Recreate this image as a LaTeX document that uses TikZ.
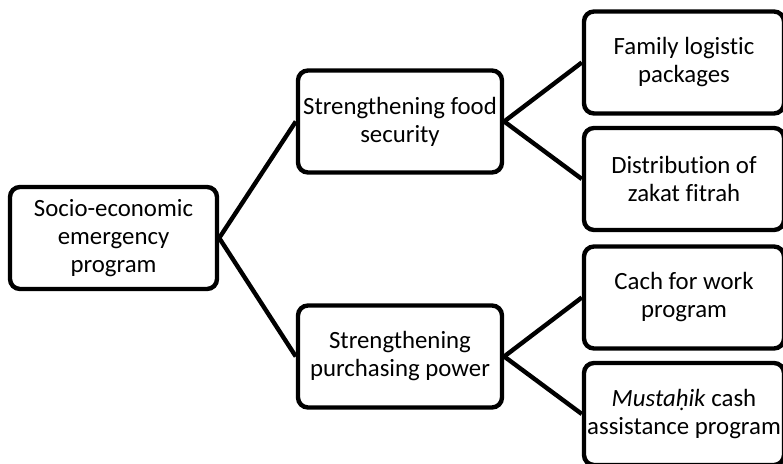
\documentclass[tikz,border=0pt]{standalone}
\usepackage{fontspec}
\setmainfont{Carlito}[Ligatures={NoCommon}]
\usepackage{tikz}
\usetikzlibrary{positioning}

\begin{document}
\begin{tikzpicture}[
    x=0.5pt, y=-0.5pt,
    every node/.style={font=\fontsize{12.4}{14}\selectfont},
    box/.style={draw, rectangle, rounded corners=5pt, line width=2.2pt,
                minimum width=102pt, minimum height=51pt, align=center,
                inner sep=0pt},
    link/.style={line width=2.2pt},
]
\clip (0,0) rectangle (783,464);

%% Root
\node[box, minimum width=103.5pt] (root) at (113.5,238)
    {Socio-economic\\emergency\\program};

%% Second level
\node[box] (food)     at (400,121.5) {Strengthening food\\security};
\node[box] (purchase) at (400,356.5) {Strengthening\\purchasing power};

%% Third level
\node[box, minimum width=100pt] (family) at (684,62.5)
    {Family logistic\\packages};
\node[box, minimum width=100pt] (zakat)  at (684,179)
    {Distribution of\\zakat fitrah};
\node[box, minimum width=100pt] (work)   at (684,297.5)
    {Cach for work\\program};
\node[box, minimum width=100pt] (cash)   at (684,414)
    {\textit{Mustaḥik} cash\\assistance program};

%% Connectors
\draw[link] (root.east) -- (food.west);
\draw[link] (root.east) -- (purchase.west);
\draw[link] (food.east) -- (family.west);
\draw[link] (food.east) -- (zakat.west);
\draw[link] (purchase.east) -- (work.west);
\draw[link] (purchase.east) -- (cash.west);

\end{tikzpicture}
\end{document}
